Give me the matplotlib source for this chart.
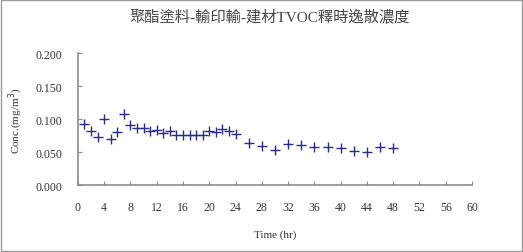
import matplotlib.pyplot as plt
from matplotlib.patches import Rectangle

hours = [1, 2, 3, 4, 5, 6, 7, 8, 9, 10, 11, 12, 13, 14, 15, 16, 17, 18, 19, 20,
         21, 22, 23, 24, 26, 28, 30, 32, 34, 36, 38, 40, 42, 44, 46, 48]
conc = [0.093, 0.083, 0.074, 0.100, 0.070, 0.081, 0.108, 0.091, 0.087, 0.087,
        0.082, 0.084, 0.080, 0.083, 0.076, 0.076, 0.076, 0.077, 0.077, 0.082,
        0.081, 0.085, 0.082, 0.078, 0.064, 0.060, 0.054, 0.063, 0.062, 0.058,
        0.058, 0.056, 0.052, 0.050, 0.058, 0.057]
x_ticks = list(range(0, 61, 4))
y_ticks = [0.0, 0.05, 0.10, 0.15, 0.20]
title = "聚酯塗料-輸印輸-建材TVOC釋時逸散濃度"

def main():
    plt.rcParams['font.family'] = ['Liberation Serif', 'Noto Sans CJK TC']
    fig = plt.figure(figsize=(5.23, 2.53), dpi=100)
    ax = fig.add_axes([0.149, 0.263, 0.7535, 0.522])
    ax.plot(hours, conc, linestyle="none", marker="+", markersize=6.5,
            markeredgewidth=1.0, color="#2b2b8a")
    ax.set_xlim(0, 60)
    ax.set_ylim(0, 0.2)
    ax.set_xticks(x_ticks)
    ax.set_yticks(y_ticks)
    ax.set_yticklabels(["%.3f" % v for v in y_ticks])
    for s in ["top", "right"]:
        ax.spines[s].set_visible(False)
    for s in ["left", "bottom"]:
        ax.spines[s].set_color("#8c8c8c")
        ax.spines[s].set_linewidth(1.2)
    ax.tick_params(direction="in", length=3, color="#8c8c8c", labelsize=8.5,
                   labelcolor="#333333")
    ax.tick_params(axis="x", pad=11)
    ax.tick_params(axis="y", pad=11)
    ax.set_xlabel("Time (hr)", fontsize=8, color="#333333", labelpad=12)
    ax.set_ylabel("Conc.(mg/m$^3$)", fontsize=8, color="#333333", labelpad=8)
    fig.text(0.515, 0.935, title, ha="center", va="center", fontsize=11,
             color="#444444", family=['Liberation Serif', 'Noto Sans CJK TC'])
    fig.patches.append(Rectangle((0.001, 0.002), 0.997, 0.996, transform=fig.transFigure,
                                 fill=False, edgecolor="#9a9a9a", linewidth=1))
    fig.savefig("out.png", dpi=100)

if __name__ == "__main__":
    main()
